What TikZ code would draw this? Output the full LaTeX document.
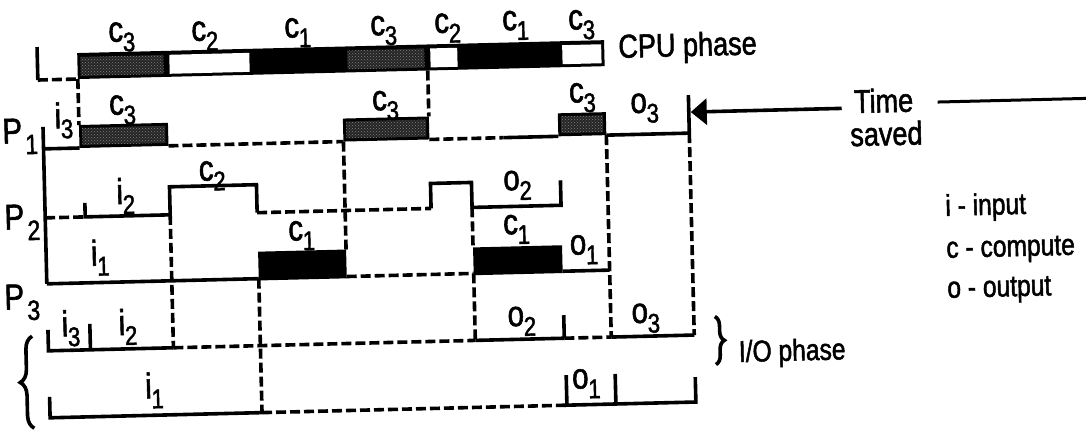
\documentclass[tikz,border=0pt]{standalone}
\usepackage{fontspec}
\setmainfont{Liberation Sans}[FakeStretch=0.82,FakeBold=1.6]
\usetikzlibrary{arrows.meta,decorations.pathreplacing,patterns}
\newcommand\lab[2]{\fontsize{36}{36}\selectfont #1\kern-0.5pt\raisebox{-10pt}{\fontsize{27}{27}\selectfont #2}}
\newcommand\plab[1]{\fontsize{36}{36}\selectfont P\kern3pt\raisebox{-11pt}{\fontsize{28}{28}\selectfont #1}}
\begin{document}
\begin{tikzpicture}[x=1pt,y=-1pt,
  ln/.style={line width=3.6pt, line join=miter},
  dsh/.style={line width=3.6pt, dash pattern=on 10pt off 4pt},
  lb/.style={inner sep=0pt},
  hf/.style={fill=black!86},
  hp/.style={pattern=crosshatch dots, pattern color=black!50},
  txt/.style={inner sep=0pt, font=\fontsize{33}{33}\selectfont},
  leg/.style={inner sep=0pt, anchor=base west, font=\fontsize{30}{30}\selectfont}]
\useasboundingbox (0,0) rectangle (1086,433);
\begin{scope}[rotate around={1.4:(40,250)}, transform shape]
% ---------- CPU phase bar
\fill[black] (82,54) rectangle (609,80);
\fill[hf] (85,58) rectangle (168,77);
\fill[hp] (85,58) rectangle (168,77);
\fill[white] (174,58) rectangle (254,77);
\fill[hf] (352,58) rectangle (429,77);
\fill[hp] (352,58) rectangle (429,77);
\fill[white] (435,58) rectangle (462,77);
\fill[white] (567,58) rectangle (606,77);
\draw[ln] (42,47) -- (42,80);
\draw[dsh] (42,80) -- (82,80);
\node[lb] (cpu1) at (127,39) {\lab{c}{3}};
\node[lb] (cpu2) at (210,40) {\lab{c}{2}};
\node[lb] (cpu3) at (303,39) {\lab{c}{1}};
\node[lb] (cpu4) at (389,39) {\lab{c}{3}};
\node[lb] (cpu5) at (453,38) {\lab{c}{2}};
\node[lb] (cpu6) at (521,37) {\lab{c}{1}};
\node[lb] (cpu7) at (587,38) {\lab{c}{3}};
\node[txt, anchor=base west] (cpuph) at (623,72) {CPU phase};
% ---------- P1 row
\fill[black] (82,126) rectangle (171,149);
\fill[hf] (85,129) rectangle (168,146);
\fill[hp] (85,129) rectangle (168,146);
\fill[black] (346,126) rectangle (432,149);
\fill[hf] (349,129) rectangle (429,146);
\fill[hp] (349,129) rectangle (429,146);
\fill[black] (561,126) rectangle (609,149);
\fill[hf] (564,129) rectangle (606,146);
\fill[hp] (564,129) rectangle (606,146);
\draw[ln] (46,149) -- (82,149);
\draw[dsh] (171,149) -- (346,149);
\draw[dsh] (432,149) -- (506,149);
\draw[ln] (506,149) -- (561,149);
\draw[ln] (609,149) -- (692,149);
\draw[dsh] (82,80) -- (82,126);
\draw[dsh] (432,80) -- (432,126);
\draw[ln] (46,127) -- (46,284);
\draw[ln] (692,111) -- (692,149);
\draw[dsh] (692,149) -- (692,351);
\node[lb] (p1) at (23,136) {\plab{1}};
\node[lb] (p1i3) at (67,121) {\lab{i}{3}};
\node[lb] (p1c3a) at (126,112) {\lab{c}{3}};
\node[lb] (p1c3b) at (389,114) {\lab{c}{3}};
\node[lb] (p1c3c) at (586,111) {\lab{c}{3}};
\node[lb] (p1o3) at (648,123) {\lab{o}{3}};
% ---------- P2 row
\draw[dsh] (46,218) -- (86,218);
\draw[ln] (86,204) -- (86,218) -- (171,218);
\draw[ln] (171,218) -- (171,190) -- (258,190) -- (258,218);
\draw[dsh] (258,218) -- (432,218);
\draw[ln] (432,218) -- (432,193) -- (473,193) -- (473,218) -- (562,218) -- (562,193);
\node[lb] (p2) at (23,222) {\plab{2}};
\node[lb] (p2i2) at (127,198) {\lab{i}{2}};
\node[lb] (p2c2) at (214,180) {\lab{c}{2}};
\node[lb] (p2o2) at (519,197) {\lab{o}{2}};
% ---------- P3 row
\draw[ln] (46,284) -- (258,284);
\fill[black] (258,257) rectangle (346,285.8);
\draw[dsh] (346,284) -- (473,284);
\fill[black] (473,258) rectangle (562,285.8);
\draw[ln] (562,284) -- (609,284);
\node[lb] (p3) at (21,302) {\plab{3}};
\node[lb] (p3i1) at (100,259) {\lab{i}{1}};
\node[lb] (p3c1a) at (302,242) {\lab{c}{1}};
\node[lb] (p3c1b) at (517,241) {\lab{c}{1}};
\node[lb] (p3o1) at (584,263) {\lab{o}{1}};
% ---------- vertical guides
\draw[dsh] (171,218) -- (171,351);
\draw[dsh] (258,284) -- (258,418);
\draw[dsh] (346,149) -- (346,257);
\draw[dsh] (473,218) -- (473,258);
\draw[dsh] (473,284) -- (473,351);
\draw[dsh] (609,149) -- (609,351);
% ---------- I/O row 1
\draw[ln] (46,330) -- (46,351) -- (171,351);
\draw[ln] (88,325) -- (88,351);
\draw[dsh] (171,351) -- (473,351);
\draw[ln] (473,351) -- (562,351);
\draw[ln] (562,328) -- (562,351);
\draw[dsh] (562,351) -- (609,351);
\draw[ln] (609,351) -- (692,351);
\node[lb] (io1i3) at (69,329) {\lab{i}{3}};
\node[lb] (io1i2) at (126,329) {\lab{i}{2}};
\node[lb] (io1o2) at (520,333) {\lab{o}{2}};
\node[lb] (io1o3) at (644,333) {\lab{o}{3}};
% ---------- I/O row 2
\draw[ln] (46,397) -- (46,418) -- (258,418);
\draw[dsh] (258,418) -- (563,418);
\draw[ln] (563,388) -- (563,418) -- (692,418) -- (692,393);
\draw[ln] (612,388) -- (612,418);
\node[lb] (io2i1) at (151,393) {\lab{i}{1}};
\node[lb] (io2o1) at (583,397) {\lab{o}{1}};
% ---------- braces
\draw[line width=3.6pt, decorate, decoration={brace, amplitude=13pt}] (30,428) -- (30,336);
\draw[line width=3.6pt, decorate, decoration={brace, amplitude=9pt}] (713,333) -- (713,381);
\node[leg] (ioph) at (736,379) {I/O phase};
% ---------- time saved
\node[txt, anchor=base] (tsA) at (887,133) {Time};
\node[txt, anchor=base] (tsB) at (889,166) {saved};
\coordinate (tsTip) at (694,128);
\coordinate (tsS) at (845,128);
\draw[line width=3.6pt, -{Triangle[length=16pt,width=26pt]}] (tsS) -- (tsTip);
\coordinate (tsR0) at (941,124);
\coordinate (tsR) at (1100,124);
\draw[line width=3pt] (tsR0) -- (tsR);
% ---------- legend
\node[leg] (lg1) at (946,238) {i - input};
\node[leg] (lg2) at (946,280) {c - compute};
\node[leg] (lg3) at (946,320) {o - output};
\end{scope}
\end{tikzpicture}
\end{document}
